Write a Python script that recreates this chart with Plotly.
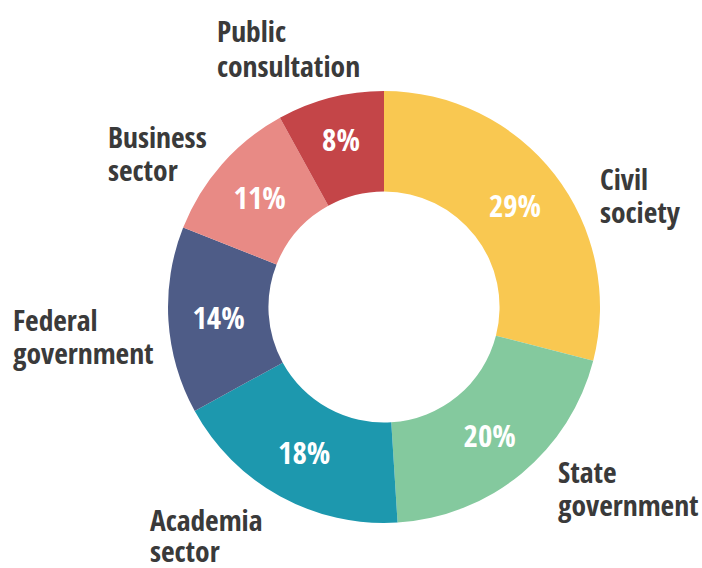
import plotly.graph_objects as go

categories = ["Civil society", "State government", "Academia sector",
              "Federal government", "Business sector", "Public consultation"]
values = [29, 20, 18, 14, 11, 8]
colors = ["#F9C851", "#84C99E", "#1D98AE", "#4E5C87", "#E88A85", "#C44548"]

# outside label lines (text, left x px, baseline y px)
label_lines = [
    ("Public", 215, 42), ("consultation", 215, 76),
    ("Business", 106, 147), ("sector", 106, 181),
    ("Civil", 598, 189), ("society", 598, 222),
    ("Federal", 11, 330), ("government", 11, 363),
    ("State", 556, 482), ("government", 556, 515),
    ("Academia", 148, 530), ("sector", 148, 561),
]

W, H = 702, 568
FONT = "Open Sans Condensed, Roboto Condensed, DejaVu Sans, sans-serif"

fig = go.Figure(go.Pie(
    labels=categories,
    values=values,
    marker=dict(colors=colors, line=dict(width=0)),
    hole=0.535,
    sort=False,
    direction="clockwise",
    rotation=0,
    texttemplate="%{value}%",
    textposition="inside",
    insidetextorientation="horizontal",
    textfont=dict(family=FONT, size=31, color="white", weight="bold"),
    showlegend=False,
    hoverinfo="label+percent",
    domain=dict(x=[168 / W, 600 / W], y=[45 / H, 477 / H]),
))

for txt, x, base in label_lines:
    fig.add_annotation(
        text=txt, x=x / W, y=1 - (base - 11) / H, xref="paper", yref="paper",
        xanchor="left", yanchor="middle", showarrow=False,
        font=dict(family=FONT, size=29.5, color="#3a3a3a", weight="bold"),
    )

fig.update_layout(
    width=W, height=H,
    margin=dict(l=0, r=0, t=0, b=0),
    paper_bgcolor="white", plot_bgcolor="white",
)

fig.write_html("out.html", config={"displayModeBar": False},
               post_script="document.body.style.margin='0';")
